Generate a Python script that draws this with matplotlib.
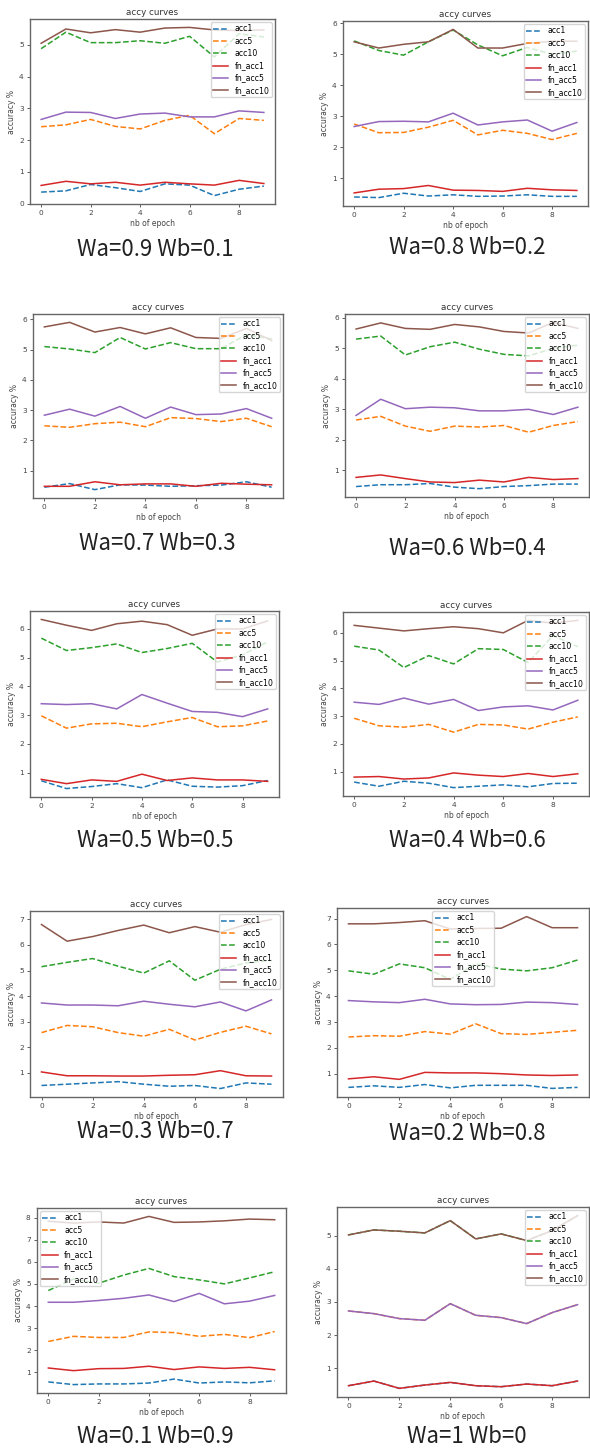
import matplotlib.pyplot as plt

W, H = 590, 1448
epochs = list(range(10))
names = ["acc1", "acc5", "acc10", "fn_acc1", "fn_acc5", "fn_acc10"]
colors = ["C0", "C1", "C2", "C3", "C4", "C5"]
styles = ["--", "--", "--", "-", "-", "-"]

# Wa=0.9 Wb=0.1
a_acc1 = [0.36, 0.40, 0.60, 0.50, 0.38, 0.62, 0.58, 0.25, 0.45, 0.55]
a_acc5 = [2.42, 2.48, 2.65, 2.43, 2.35, 2.62, 2.78, 2.20, 2.68, 2.62]
a_acc10 = [4.88, 5.40, 5.07, 5.07, 5.13, 5.05, 5.27, 4.62, 5.35, 5.25]
a_fn1 = [0.57, 0.70, 0.62, 0.67, 0.58, 0.67, 0.62, 0.58, 0.73, 0.63]
a_fn5 = [2.65, 2.88, 2.87, 2.68, 2.82, 2.85, 2.73, 2.73, 2.92, 2.87]
a_fn10 = [5.05, 5.50, 5.38, 5.48, 5.40, 5.53, 5.55, 5.47, 5.45, 5.47]

# Wa=0.8 Wb=0.2
b_acc1 = [0.40, 0.38, 0.52, 0.43, 0.47, 0.42, 0.43, 0.47, 0.42, 0.42]
b_acc5 = [2.75, 2.47, 2.48, 2.65, 2.87, 2.40, 2.55, 2.45, 2.25, 2.45]
b_acc10 = [5.43, 5.12, 4.97, 5.40, 5.78, 5.30, 4.95, 5.22, 5.00, 5.10]
b_fn1 = [0.53, 0.65, 0.67, 0.77, 0.62, 0.61, 0.58, 0.68, 0.63, 0.61]
b_fn5 = [2.67, 2.83, 2.84, 2.82, 3.10, 2.72, 2.82, 2.88, 2.52, 2.80]
b_fn10 = [5.40, 5.20, 5.32, 5.40, 5.80, 5.20, 5.20, 5.35, 5.42, 5.42]

# Wa=0.7 Wb=0.3
c_acc1 = [0.45, 0.57, 0.37, 0.53, 0.52, 0.48, 0.50, 0.52, 0.63, 0.45]
c_acc5 = [2.48, 2.43, 2.55, 2.60, 2.45, 2.75, 2.72, 2.62, 2.73, 2.45]
c_acc10 = [5.10, 5.02, 4.90, 5.40, 5.02, 5.23, 5.03, 5.03, 5.50, 5.35]
c_fn1 = [0.48, 0.48, 0.63, 0.53, 0.56, 0.56, 0.48, 0.58, 0.55, 0.53]
c_fn5 = [2.83, 3.03, 2.80, 3.12, 2.73, 3.10, 2.85, 2.87, 3.05, 2.73]
c_fn10 = [5.75, 5.90, 5.58, 5.73, 5.52, 5.72, 5.40, 5.37, 5.70, 5.30]

# Wa=0.6 Wb=0.4
d_acc1 = [0.47, 0.53, 0.53, 0.57, 0.45, 0.40, 0.47, 0.50, 0.55, 0.55]
d_acc5 = [2.65, 2.77, 2.45, 2.28, 2.45, 2.42, 2.47, 2.25, 2.47, 2.60]
d_acc10 = [5.30, 5.40, 4.78, 5.05, 5.20, 4.97, 4.80, 4.75, 5.00, 5.10]
d_fn1 = [0.77, 0.85, 0.73, 0.62, 0.60, 0.68, 0.62, 0.77, 0.70, 0.73]
d_fn5 = [2.80, 3.33, 3.02, 3.07, 3.05, 2.95, 2.95, 3.00, 2.83, 3.07]
d_fn10 = [5.63, 5.83, 5.65, 5.62, 5.78, 5.70, 5.55, 5.50, 5.85, 5.65]

# Wa=0.5 Wb=0.5
e_acc1 = [0.72, 0.45, 0.52, 0.62, 0.48, 0.75, 0.53, 0.50, 0.55, 0.73]
e_acc5 = [2.98, 2.55, 2.70, 2.72, 2.60, 2.77, 2.92, 2.60, 2.63, 2.80]
e_acc10 = [5.68, 5.25, 5.35, 5.48, 5.18, 5.32, 5.50, 4.85, 5.10, 5.55]
e_fn1 = [0.77, 0.62, 0.75, 0.70, 0.95, 0.73, 0.82, 0.75, 0.75, 0.70]
e_fn5 = [3.40, 3.37, 3.40, 3.22, 3.72, 3.42, 3.13, 3.10, 2.95, 3.22]
e_fn10 = [6.33, 6.13, 5.95, 6.18, 6.27, 6.15, 5.78, 6.00, 6.00, 6.28]

# Wa=0.4 Wb=0.6
f_acc1 = [0.62, 0.47, 0.65, 0.58, 0.42, 0.47, 0.52, 0.45, 0.57, 0.58]
f_acc5 = [2.92, 2.65, 2.60, 2.70, 2.42, 2.70, 2.68, 2.53, 2.78, 2.97]
f_acc10 = [5.52, 5.38, 4.75, 5.18, 4.88, 5.43, 5.40, 4.93, 5.90, 5.50]
f_fn1 = [0.80, 0.82, 0.73, 0.77, 0.95, 0.87, 0.82, 0.93, 0.82, 0.92]
f_fn5 = [3.50, 3.42, 3.65, 3.43, 3.60, 3.20, 3.33, 3.37, 3.22, 3.57]
f_fn10 = [6.27, 6.17, 6.07, 6.15, 6.22, 6.15, 6.00, 6.45, 6.35, 6.45]

# Wa=0.3 Wb=0.7
g_acc1 = [0.50, 0.55, 0.60, 0.65, 0.55, 0.47, 0.50, 0.38, 0.60, 0.55]
g_acc5 = [2.57, 2.85, 2.80, 2.57, 2.43, 2.70, 2.28, 2.58, 2.82, 2.52]
g_acc10 = [5.15, 5.32, 5.47, 5.17, 4.90, 5.38, 4.62, 5.05, 5.30, 5.40]
g_fn1 = [1.03, 0.88, 0.88, 0.87, 0.87, 0.90, 0.92, 1.08, 0.88, 0.87]
g_fn5 = [3.73, 3.65, 3.65, 3.62, 3.80, 3.68, 3.58, 3.77, 3.42, 3.85]
g_fn10 = [6.80, 6.15, 6.33, 6.57, 6.78, 6.48, 6.72, 6.50, 6.80, 7.00]

# Wa=0.2 Wb=0.8
h_acc1 = [0.47, 0.53, 0.47, 0.58, 0.45, 0.55, 0.55, 0.55, 0.43, 0.47]
h_acc5 = [2.42, 2.47, 2.45, 2.63, 2.53, 2.93, 2.55, 2.52, 2.60, 2.68]
h_acc10 = [4.98, 4.85, 5.25, 5.10, 4.65, 5.25, 5.05, 4.98, 5.10, 5.40]
h_fn1 = [0.80, 0.88, 0.78, 1.05, 1.03, 1.03, 1.00, 0.95, 0.93, 0.95]
h_fn5 = [3.83, 3.78, 3.75, 3.88, 3.70, 3.67, 3.68, 3.77, 3.75, 3.68]
h_fn10 = [6.80, 6.80, 6.85, 6.92, 6.60, 6.62, 6.63, 7.08, 6.65, 6.65]

# Wa=0.1 Wb=0.9
i_acc1 = [0.57, 0.45, 0.48, 0.48, 0.52, 0.70, 0.52, 0.57, 0.53, 0.62]
i_acc5 = [2.40, 2.63, 2.58, 2.58, 2.83, 2.80, 2.63, 2.72, 2.57, 2.85]
i_acc10 = [4.70, 5.22, 5.03, 5.40, 5.70, 5.33, 5.18, 5.00, 5.27, 5.55]
i_fn1 = [1.20, 1.08, 1.17, 1.18, 1.28, 1.13, 1.25, 1.18, 1.23, 1.12]
i_fn5 = [4.17, 4.17, 4.25, 4.35, 4.50, 4.20, 4.57, 4.10, 4.22, 4.48]
i_fn10 = [7.83, 7.75, 7.80, 7.75, 8.05, 7.78, 7.80, 7.85, 7.93, 7.90]

# Wa=1 Wb=0 (acc and fn_acc are the same)
j_fn1 = [0.48, 0.62, 0.40, 0.50, 0.58, 0.48, 0.45, 0.53, 0.48, 0.62]
j_fn5 = [2.73, 2.65, 2.50, 2.45, 2.95, 2.60, 2.53, 2.35, 2.68, 2.92]
j_fn10 = [5.02, 5.17, 5.13, 5.08, 5.45, 4.90, 5.05, 4.85, 5.15, 5.60]

captions = ["Wa=0.9 Wb=0.1", "Wa=0.8 Wb=0.2", "Wa=0.7 Wb=0.3", "Wa=0.6 Wb=0.4",
            "Wa=0.5 Wb=0.5", "Wa=0.4 Wb=0.6", "Wa=0.3 Wb=0.7", "Wa=0.2 Wb=0.8",
            "Wa=0.1 Wb=0.9", "Wa=1 Wb=0"]

series = [
    [a_acc1, a_acc5, a_acc10, a_fn1, a_fn5, a_fn10],
    [b_acc1, b_acc5, b_acc10, b_fn1, b_fn5, b_fn10],
    [c_acc1, c_acc5, c_acc10, c_fn1, c_fn5, c_fn10],
    [d_acc1, d_acc5, d_acc10, d_fn1, d_fn5, d_fn10],
    [e_acc1, e_acc5, e_acc10, e_fn1, e_fn5, e_fn10],
    [f_acc1, f_acc5, f_acc10, f_fn1, f_fn5, f_fn10],
    [g_acc1, g_acc5, g_acc10, g_fn1, g_fn5, g_fn10],
    [h_acc1, h_acc5, h_acc10, h_fn1, h_fn5, h_fn10],
    [i_acc1, i_acc5, i_acc10, i_fn1, i_fn5, i_fn10],
    [j_fn1, j_fn5, j_fn10, j_fn1, j_fn5, j_fn10],
]

# axes boxes in pixels: left, top, right, bottom
boxes = [(30, 19, 275, 204), (343, 21, 588, 206),
         (33, 314, 283, 498), (345, 314, 589, 497),
         (30, 611, 279, 797), (343, 612, 589, 796),
         (30, 911, 283, 1097), (337, 908, 589, 1097),
         (37, 1208, 286, 1393), (337, 1207, 589, 1397)]
# caption baselines in pixels
cap_pos = [(155, 256), (467, 254), (157, 550), (467, 555),
           (155, 847), (467, 847), (155, 1138), (467, 1140),
           (155, 1443), (467, 1443)]
leg_loc = ["upper right"] * 7 + ["upper center", "upper left", "upper right"]

fig = plt.figure(figsize=(W / 100, H / 100), dpi=100)

for k in range(10):
    l, t, r, b = boxes[k]
    ax = fig.add_axes([l / W, 1 - b / H, (r - l) / W, (b - t) / H])
    for s, name, c, ls in zip(series[k], names, colors, styles):
        ax.plot(epochs, s, ls, color=c, label=name, lw=1.1)
    ax.set_title("accy curves", fontsize=6.3, pad=3, color="#333")
    ax.set_xlabel("nb of epoch", fontsize=5.5, labelpad=2, color="#444")
    ax.set_ylabel("accuracy %", fontsize=5.5, labelpad=2, color="#444")
    ax.set_xticks([0, 2, 4, 6, 8])
    ax.tick_params(labelsize=5.3, length=2.5, width=0.6, pad=2, colors="#444")
    for sp in ax.spines.values():
        sp.set_color("#666")
        sp.set_linewidth(1.0)
    ax.legend(loc=leg_loc[k], fontsize=5.6, handlelength=2.0, borderpad=0.3,
              labelspacing=0.42, framealpha=0.8, borderaxespad=0.4)
    cx, cy = cap_pos[k]
    fig.text(cx / W, 1 - cy / H, captions[k], ha="center", va="baseline",
             fontsize=16, fontweight="light", color="#222",
             family=["Noto Sans CJK SC", "DejaVu Sans"])

fig.savefig("out.png", dpi=100)
